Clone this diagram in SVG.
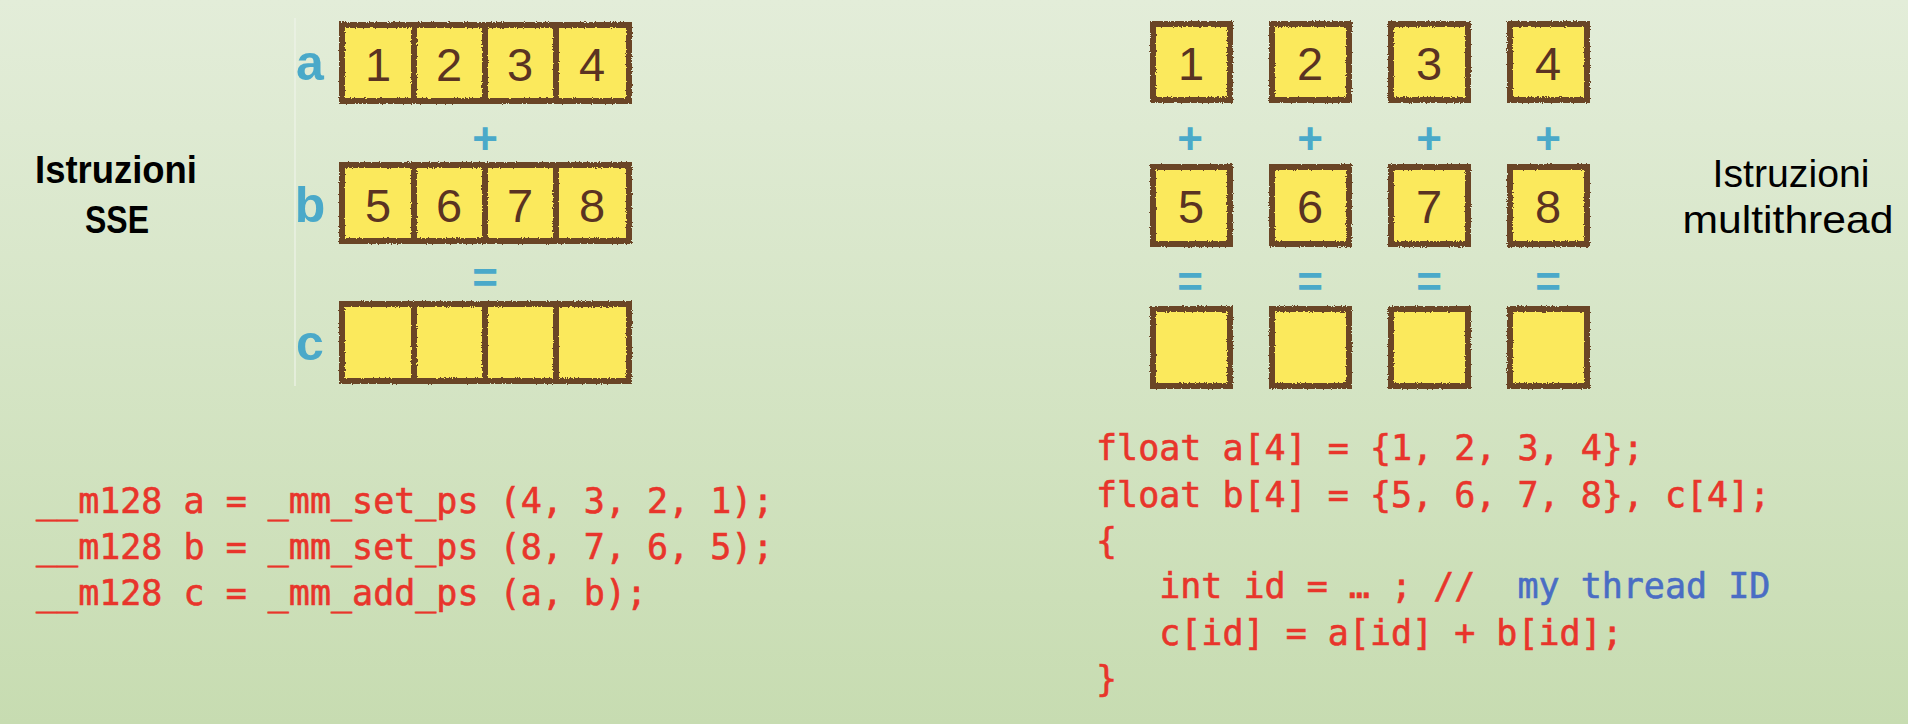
<svg xmlns="http://www.w3.org/2000/svg" width="1908" height="724" viewBox="0 0 1908 724">
<defs>
  <linearGradient id="bg" x1="0" y1="0" x2="0" y2="1">
    <stop offset="0" stop-color="#e3edd9"/>
    <stop offset="1" stop-color="#c7dcb1"/>
  </linearGradient>
  <filter id="rough" x="-5%" y="-5%" width="110%" height="110%">
    <feTurbulence type="fractalNoise" baseFrequency="0.8" numOctaves="2" seed="3" result="n"/>
    <feDisplacementMap in="SourceGraphic" in2="n" scale="3" xChannelSelector="R" yChannelSelector="G"/>
  </filter>
  <style>
    .cell{fill:#fbe95c;stroke:#6b4426;stroke-width:6;}
    .num{font-family:"Liberation Sans",Arial,sans-serif;font-size:47px;fill:#5a3322;text-anchor:middle;}
    .var{font-family:"Liberation Sans",Arial,sans-serif;font-weight:bold;font-size:50px;fill:#4aa9c9;text-anchor:middle;}
    .op{font-family:"Liberation Sans",Arial,sans-serif;font-weight:bold;font-size:44px;fill:#4aa9c9;text-anchor:middle;}
    .code{font-family:"DejaVu Sans Mono","Liberation Mono",monospace;font-size:35px;fill:#e8352b;stroke:#e8352b;stroke-width:0.6;white-space:pre;}
    .cmt{fill:#4a6dc4;stroke:#4a6dc4;}
    .title{font-family:"Liberation Sans",Arial,sans-serif;font-size:38px;fill:#000;text-anchor:middle;}
  </style>
</defs>
<rect x="0" y="0" width="1908" height="724" fill="url(#bg)"/>

<g id="sse-panel">
  <line x1="295" y1="18" x2="295" y2="386" stroke="#eef4ea" stroke-width="1.2"/>
  <g id="sse-labels">
    <text class="var" x="310" y="80">a</text>
    <text class="var" x="310" y="222">b</text>
    <text class="var" x="310" y="360">c</text>
  </g>
  <g id="sse-a" filter="url(#rough)">
    <rect class="cell" x="342" y="25" width="72" height="76"/>
    <rect class="cell" x="414" y="25" width="71" height="76"/>
    <rect class="cell" x="485" y="25" width="71" height="76"/>
    <rect class="cell" x="556" y="25" width="73" height="76"/>
  </g>
  <g id="sse-a-values">
    <text class="num" x="378" y="81">1</text>
    <text class="num" x="449" y="81">2</text>
    <text class="num" x="520" y="81">3</text>
    <text class="num" x="592" y="81">4</text>
  </g>
  <text class="op" x="485" y="154">+</text>
  <g id="sse-b" filter="url(#rough)">
    <rect class="cell" x="342" y="165" width="72" height="76"/>
    <rect class="cell" x="414" y="165" width="71" height="76"/>
    <rect class="cell" x="485" y="165" width="71" height="76"/>
    <rect class="cell" x="556" y="165" width="73" height="76"/>
  </g>
  <g id="sse-b-values">
    <text class="num" x="378" y="222">5</text>
    <text class="num" x="449" y="222">6</text>
    <text class="num" x="520" y="222">7</text>
    <text class="num" x="592" y="222">8</text>
  </g>
  <text class="op" x="485" y="293">=</text>
  <g id="sse-c" filter="url(#rough)">
    <rect class="cell" x="342" y="304" width="72" height="77"/>
    <rect class="cell" x="414" y="304" width="71" height="77"/>
    <rect class="cell" x="485" y="304" width="71" height="77"/>
    <rect class="cell" x="556" y="304" width="73" height="77"/>
  </g>
</g>

<g id="mt-panel">
  <g id="mt-cells" filter="url(#rough)">
    <rect class="cell" x="1153" y="24" width="77" height="76"/>
    <rect class="cell" x="1272" y="24" width="77" height="76"/>
    <rect class="cell" x="1391" y="24" width="77" height="76"/>
    <rect class="cell" x="1510" y="24" width="77" height="76"/>
    <rect class="cell" x="1153" y="167" width="77" height="77"/>
    <rect class="cell" x="1272" y="167" width="77" height="77"/>
    <rect class="cell" x="1391" y="167" width="77" height="77"/>
    <rect class="cell" x="1510" y="167" width="77" height="77"/>
    <rect class="cell" x="1153" y="309" width="77" height="77"/>
    <rect class="cell" x="1272" y="309" width="77" height="77"/>
    <rect class="cell" x="1391" y="309" width="77" height="77"/>
    <rect class="cell" x="1510" y="309" width="77" height="77"/>
  </g>
  <g id="mt-values">
    <text class="num" x="1191" y="80">1</text>
    <text class="num" x="1310" y="80">2</text>
    <text class="num" x="1429" y="80">3</text>
    <text class="num" x="1548" y="80">4</text>
    <text class="num" x="1191" y="223">5</text>
    <text class="num" x="1310" y="223">6</text>
    <text class="num" x="1429" y="223">7</text>
    <text class="num" x="1548" y="223">8</text>
  </g>
  <g id="mt-ops">
    <text class="op" x="1190" y="154">+</text>
    <text class="op" x="1310" y="154">+</text>
    <text class="op" x="1429" y="154">+</text>
    <text class="op" x="1548" y="154">+</text>
    <text class="op" x="1190" y="297">=</text>
    <text class="op" x="1310" y="297">=</text>
    <text class="op" x="1429" y="297">=</text>
    <text class="op" x="1548" y="297">=</text>
  </g>
</g>

<g id="title-sse">
  <text class="title" x="116" y="183" font-weight="bold" textLength="162" lengthAdjust="spacingAndGlyphs">Istruzioni</text>
  <text class="title" x="117" y="233" font-weight="bold" font-size="37" textLength="64" lengthAdjust="spacingAndGlyphs">SSE</text>
</g>
<g id="title-mt">
  <text class="title" x="1791" y="187" textLength="157" lengthAdjust="spacingAndGlyphs">Istruzioni</text>
  <text class="title" x="1788" y="233" textLength="211" lengthAdjust="spacingAndGlyphs">multithread</text>
</g>

<g id="code-sse">
  <text class="code" x="36" y="513">__m128 a = _mm_set_ps (4, 3, 2, 1);</text>
  <text class="code" x="36" y="559">__m128 b = _mm_set_ps (8, 7, 6, 5);</text>
  <text class="code" x="36" y="605">__m128 c = _mm_add_ps (a, b);</text>
</g>
<g id="code-mt">
  <text class="code" x="1096" y="460">float a[4] = {1, 2, 3, 4};</text>
  <text class="code" x="1096" y="507">float b[4] = {5, 6, 7, 8}, c[4];</text>
  <text class="code" x="1096" y="553">{</text>
  <text class="code" x="1096" y="598">   int id = … ; //  <tspan class="cmt">my thread ID</tspan></text>
  <text class="code" x="1096" y="645">   c[id] = a[id] + b[id];</text>
  <text class="code" x="1096" y="691">}</text>
</g>
</svg>
